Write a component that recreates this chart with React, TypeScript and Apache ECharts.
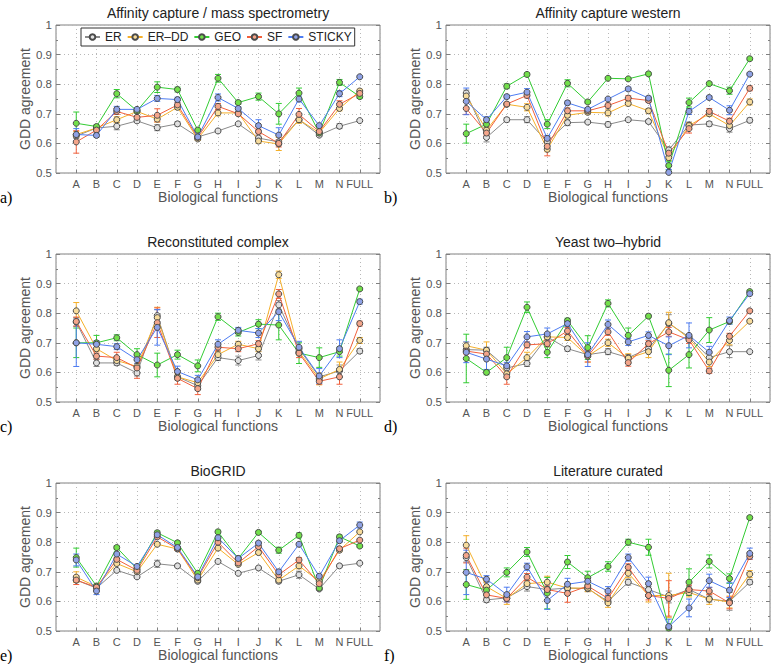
import React, { useEffect, useRef } from "react";
import * as echarts from "echarts";

// ---------- categories / names ----------
const categories = ["A", "B", "C", "D", "E", "F", "G", "H", "I", "J", "K", "L", "M", "N", "FULL"];
const seriesNames = ["ER", "ER–DD", "GEO", "SF", "STICKY"];
const panelTitles = [
  "Affinity capture / mass spectrometry",
  "Affinity capture western",
  "Reconstituted complex",
  "Yeast two–hybrid",
  "BioGRID",
  "Literature curated",
];
const panelLetters = ["a)", "b)", "c)", "d)", "e)", "f)"];
const yTicks = [0.5, 0.6, 0.7, 0.8, 0.9, 1];

// ---------- a) Affinity capture / mass spectrometry ----------
const apmsER = [0.625, 0.652, 0.658, 0.676, 0.653, 0.666, 0.622, 0.642, 0.666, 0.618, 0.605, 0.680, 0.628, 0.658, 0.677];
const apmsERerr = [0.008, 0.005, 0.012, 0.006, 0.010, 0.007, 0.005, 0.006, 0.004, 0.006, 0.006, 0.010, 0.005, 0.008, 0.004];
const apmsERDD = [0.630, 0.652, 0.680, 0.708, 0.682, 0.722, 0.615, 0.703, 0.703, 0.608, 0.598, 0.680, 0.636, 0.718, 0.777];
const apmsERDDerr = [0.010, 0.005, 0.010, 0.006, 0.010, 0.008, 0.005, 0.010, 0.005, 0.008, 0.022, 0.012, 0.005, 0.008, 0.006];
const apmsGEO = [0.668, 0.657, 0.768, 0.710, 0.790, 0.782, 0.645, 0.820, 0.738, 0.758, 0.700, 0.770, 0.635, 0.806, 0.758];
const apmsGEOerr = [0.038, 0.006, 0.014, 0.008, 0.018, 0.008, 0.006, 0.013, 0.006, 0.012, 0.035, 0.017, 0.006, 0.010, 0.006];
const apmsSF = [0.605, 0.645, 0.708, 0.688, 0.695, 0.730, 0.620, 0.725, 0.700, 0.640, 0.600, 0.698, 0.640, 0.732, 0.769];
const apmsSFerr = [0.038, 0.006, 0.010, 0.006, 0.022, 0.008, 0.005, 0.010, 0.005, 0.008, 0.012, 0.020, 0.005, 0.012, 0.005];
const apmsSTICKY = [0.630, 0.627, 0.715, 0.715, 0.752, 0.748, 0.622, 0.755, 0.718, 0.660, 0.628, 0.750, 0.660, 0.768, 0.825];
const apmsSTICKYerr = [0.020, 0.006, 0.010, 0.006, 0.010, 0.008, 0.005, 0.012, 0.006, 0.020, 0.025, 0.010, 0.005, 0.010, 0.004];

// ---------- b) Affinity capture western ----------
const acwER = [0.770, 0.620, 0.680, 0.680, 0.605, 0.670, 0.672, 0.664, 0.680, 0.674, 0.578, 0.662, 0.666, 0.650, 0.678];
const acwERerr = [0.010, 0.015, 0.007, 0.010, 0.006, 0.010, 0.005, 0.008, 0.005, 0.006, 0.010, 0.010, 0.008, 0.012, 0.008];
const acwERDD = [0.760, 0.645, 0.732, 0.722, 0.580, 0.695, 0.705, 0.703, 0.735, 0.710, 0.552, 0.660, 0.700, 0.660, 0.740];
const acwERDDerr = [0.012, 0.008, 0.006, 0.012, 0.008, 0.008, 0.006, 0.010, 0.008, 0.008, 0.010, 0.010, 0.008, 0.010, 0.010];
const acwGEO = [0.633, 0.665, 0.793, 0.833, 0.665, 0.803, 0.740, 0.820, 0.818, 0.835, 0.525, 0.738, 0.802, 0.778, 0.886];
const acwGEOerr = [0.032, 0.010, 0.008, 0.006, 0.015, 0.012, 0.005, 0.004, 0.004, 0.005, 0.015, 0.015, 0.005, 0.012, 0.005];
const acwSF = [0.718, 0.635, 0.733, 0.762, 0.590, 0.710, 0.710, 0.728, 0.753, 0.745, 0.567, 0.650, 0.708, 0.675, 0.786];
const acwSFerr = [0.020, 0.008, 0.006, 0.008, 0.032, 0.010, 0.006, 0.008, 0.008, 0.006, 0.010, 0.015, 0.010, 0.010, 0.008];
const acwSTICKY = [0.742, 0.680, 0.758, 0.773, 0.617, 0.737, 0.715, 0.750, 0.784, 0.753, 0.502, 0.708, 0.755, 0.712, 0.834];
const acwSTICKYerr = [0.045, 0.010, 0.006, 0.012, 0.010, 0.006, 0.006, 0.005, 0.006, 0.006, 0.010, 0.010, 0.006, 0.015, 0.005];

// ---------- c) Reconstituted complex ----------
const rcER = [0.770, 0.632, 0.632, 0.598, 0.792, 0.585, 0.555, 0.650, 0.640, 0.657, 0.828, 0.680, 0.585, 0.605, 0.672];
const rcERerr = [0.015, 0.012, 0.008, 0.010, 0.020, 0.010, 0.015, 0.010, 0.015, 0.015, 0.015, 0.010, 0.012, 0.020, 0.008];
const rcERDD = [0.808, 0.680, 0.640, 0.620, 0.785, 0.585, 0.565, 0.660, 0.695, 0.680, 0.930, 0.670, 0.578, 0.610, 0.708];
const rcERDDerr = [0.028, 0.010, 0.010, 0.010, 0.035, 0.010, 0.010, 0.010, 0.010, 0.010, 0.012, 0.012, 0.020, 0.025, 0.010];
const rcGEO = [0.700, 0.700, 0.717, 0.660, 0.625, 0.660, 0.622, 0.788, 0.735, 0.763, 0.760, 0.665, 0.650, 0.670, 0.882];
const rcGEOerr = [0.050, 0.025, 0.010, 0.020, 0.040, 0.015, 0.020, 0.012, 0.012, 0.015, 0.050, 0.035, 0.033, 0.015, 0.005];
const rcSF = [0.772, 0.655, 0.650, 0.615, 0.768, 0.580, 0.545, 0.685, 0.680, 0.697, 0.865, 0.665, 0.570, 0.585, 0.765];
const rcSFerr = [0.015, 0.010, 0.018, 0.035, 0.050, 0.020, 0.020, 0.010, 0.010, 0.010, 0.015, 0.015, 0.010, 0.025, 0.008];
const rcSTICKY = [0.700, 0.695, 0.687, 0.643, 0.752, 0.603, 0.575, 0.695, 0.742, 0.733, 0.805, 0.685, 0.588, 0.680, 0.839];
const rcSTICKYerr = [0.080, 0.012, 0.010, 0.012, 0.060, 0.018, 0.015, 0.015, 0.010, 0.015, 0.030, 0.020, 0.025, 0.030, 0.008];

// ---------- d) Yeast two-hybrid ----------
const y2hER = [0.677, 0.675, 0.615, 0.630, 0.720, 0.680, 0.660, 0.670, 0.650, 0.680, 0.765, 0.720, 0.650, 0.670, 0.670];
const y2hERerr = [0.010, 0.010, 0.010, 0.010, 0.010, 0.008, 0.010, 0.010, 0.010, 0.010, 0.030, 0.010, 0.015, 0.020, 0.004];
const y2hERDD = [0.690, 0.675, 0.595, 0.650, 0.720, 0.718, 0.655, 0.700, 0.648, 0.670, 0.768, 0.715, 0.635, 0.708, 0.773];
const y2hERDDerr = [0.012, 0.028, 0.015, 0.018, 0.010, 0.010, 0.020, 0.012, 0.015, 0.020, 0.035, 0.010, 0.015, 0.015, 0.005];
const y2hGEO = [0.647, 0.600, 0.650, 0.820, 0.668, 0.775, 0.684, 0.833, 0.725, 0.790, 0.607, 0.660, 0.743, 0.772, 0.873];
const y2hGEOerr = [0.082, 0.008, 0.035, 0.018, 0.018, 0.008, 0.040, 0.012, 0.025, 0.005, 0.055, 0.045, 0.042, 0.008, 0.005];
const y2hSF = [0.672, 0.662, 0.585, 0.693, 0.697, 0.740, 0.655, 0.737, 0.633, 0.697, 0.737, 0.710, 0.605, 0.722, 0.808];
const y2hSFerr = [0.010, 0.012, 0.025, 0.010, 0.010, 0.012, 0.020, 0.012, 0.012, 0.010, 0.015, 0.012, 0.008, 0.010, 0.005];
const y2hSTICKY = [0.668, 0.645, 0.622, 0.720, 0.730, 0.765, 0.660, 0.762, 0.703, 0.725, 0.690, 0.725, 0.668, 0.775, 0.866];
const y2hSTICKYerr = [0.035, 0.035, 0.012, 0.018, 0.020, 0.010, 0.040, 0.015, 0.012, 0.012, 0.030, 0.042, 0.020, 0.012, 0.005];

// ---------- e) BioGRID ----------
const bgER = [0.672, 0.645, 0.705, 0.683, 0.727, 0.720, 0.668, 0.735, 0.695, 0.713, 0.668, 0.690, 0.642, 0.720, 0.729];
const bgERerr = [0.008, 0.006, 0.005, 0.005, 0.012, 0.005, 0.005, 0.005, 0.004, 0.004, 0.006, 0.012, 0.005, 0.005, 0.004];
const bgERDD = [0.682, 0.650, 0.728, 0.700, 0.793, 0.777, 0.672, 0.780, 0.725, 0.765, 0.672, 0.720, 0.668, 0.773, 0.835];
const bgERDDerr = [0.018, 0.006, 0.006, 0.005, 0.005, 0.005, 0.005, 0.006, 0.004, 0.006, 0.008, 0.010, 0.005, 0.005, 0.004];
const bgGEO = [0.748, 0.652, 0.782, 0.710, 0.832, 0.798, 0.695, 0.835, 0.745, 0.833, 0.773, 0.823, 0.645, 0.818, 0.787];
const bgGEOerr = [0.032, 0.006, 0.006, 0.006, 0.006, 0.005, 0.006, 0.006, 0.005, 0.005, 0.010, 0.008, 0.005, 0.006, 0.005];
const bgSF = [0.672, 0.648, 0.742, 0.705, 0.818, 0.778, 0.680, 0.800, 0.730, 0.785, 0.690, 0.740, 0.660, 0.778, 0.807];
const bgSFerr = [0.015, 0.006, 0.006, 0.005, 0.006, 0.005, 0.005, 0.006, 0.004, 0.005, 0.008, 0.008, 0.005, 0.005, 0.004];
const bgSTICKY = [0.740, 0.635, 0.760, 0.718, 0.825, 0.782, 0.683, 0.815, 0.745, 0.797, 0.700, 0.793, 0.685, 0.805, 0.858];
const bgSTICKYerr = [0.020, 0.012, 0.006, 0.006, 0.006, 0.005, 0.006, 0.006, 0.005, 0.005, 0.008, 0.006, 0.006, 0.006, 0.010];

// ---------- f) Literature curated ----------
const litER = [0.748, 0.605, 0.612, 0.650, 0.640, 0.645, 0.643, 0.600, 0.665, 0.640, 0.615, 0.640, 0.608, 0.600, 0.665];
const litERerr = [0.015, 0.008, 0.010, 0.015, 0.010, 0.010, 0.010, 0.010, 0.010, 0.010, 0.020, 0.012, 0.010, 0.030, 0.008];
const litERDD = [0.790, 0.650, 0.610, 0.660, 0.665, 0.645, 0.645, 0.595, 0.695, 0.620, 0.620, 0.630, 0.608, 0.598, 0.692];
const litERDDerr = [0.032, 0.015, 0.020, 0.012, 0.020, 0.015, 0.012, 0.015, 0.015, 0.022, 0.075, 0.015, 0.018, 0.020, 0.012];
const litGEO = [0.657, 0.638, 0.698, 0.767, 0.628, 0.733, 0.680, 0.718, 0.800, 0.783, 0.510, 0.665, 0.735, 0.677, 0.883];
const litGEOerr = [0.050, 0.010, 0.015, 0.015, 0.053, 0.022, 0.022, 0.016, 0.010, 0.027, 0.010, 0.045, 0.022, 0.016, 0.005];
const litSF = [0.755, 0.622, 0.610, 0.682, 0.640, 0.627, 0.652, 0.610, 0.715, 0.620, 0.610, 0.640, 0.635, 0.595, 0.752];
const litSFerr = [0.025, 0.012, 0.012, 0.012, 0.015, 0.030, 0.012, 0.015, 0.012, 0.015, 0.060, 0.015, 0.012, 0.020, 0.010];
const litSTICKY = [0.698, 0.675, 0.623, 0.717, 0.603, 0.658, 0.668, 0.635, 0.748, 0.660, 0.515, 0.578, 0.670, 0.638, 0.762];
const litSTICKYerr = [0.075, 0.012, 0.025, 0.012, 0.030, 0.020, 0.015, 0.015, 0.012, 0.022, 0.025, 0.030, 0.022, 0.025, 0.018];

const panelValues = [
  [apmsER, apmsERDD, apmsGEO, apmsSF, apmsSTICKY],
  [acwER, acwERDD, acwGEO, acwSF, acwSTICKY],
  [rcER, rcERDD, rcGEO, rcSF, rcSTICKY],
  [y2hER, y2hERDD, y2hGEO, y2hSF, y2hSTICKY],
  [bgER, bgERDD, bgGEO, bgSF, bgSTICKY],
  [litER, litERDD, litGEO, litSF, litSTICKY],
];
const panelErrors = [
  [apmsERerr, apmsERDDerr, apmsGEOerr, apmsSFerr, apmsSTICKYerr],
  [acwERerr, acwERDDerr, acwGEOerr, acwSFerr, acwSTICKYerr],
  [rcERerr, rcERDDerr, rcGEOerr, rcSFerr, rcSTICKYerr],
  [y2hERerr, y2hERDDerr, y2hGEOerr, y2hSFerr, y2hSTICKYerr],
  [bgERerr, bgERDDerr, bgGEOerr, bgSFerr, bgSTICKYerr],
  [litERerr, litERDDerr, litGEOerr, litSFerr, litSTICKYerr],
];

// ---------- styles ----------
const lineColors = ["#8a8a8a", "#f5b02a", "#33cc33", "#f2603c", "#4d7cf2"];
const fillColors = ["#e0e0e0", "#f8dc9c", "#72e04a", "#f4a58a", "#8fa2e6"];
const FONT = '"Liberation Sans", Arial, sans-serif';
const GRID_LEFTS = [56, 446];
const GRID_TOPS = [25, 254, 483];
const GRID_W = 324;
const GRID_H = 148;

function errRenderer(color: string) {
  return (params: any, api: any) => {
    const x = api.value(0);
    const lo = api.value(1);
    const hi = api.value(2);
    const p1 = api.coord([x, hi]);
    const p2 = api.coord([x, lo]);
    const hw = 3;
    const style = { stroke: color, lineWidth: 1 };
    return {
      type: "group",
      children: [
        { type: "line", shape: { x1: p1[0], y1: p1[1], x2: p2[0], y2: p2[1] }, style },
        { type: "line", shape: { x1: p1[0] - hw, y1: p1[1], x2: p1[0] + hw, y2: p1[1] }, style },
        { type: "line", shape: { x1: p2[0] - hw, y1: p2[1], x2: p2[0] + hw, y2: p2[1] }, style },
      ],
    };
  };
}

function buildOption() {
  const grids: any[] = [];
  const xAxes: any[] = [];
  const yAxes: any[] = [];
  const rightAxes: any[] = [];
  const series: any[] = [];
  const graphics: any[] = [];

  for (let p = 0; p < 6; p++) {
    const col = p % 2;
    const row = Math.floor(p / 2);
    const left = GRID_LEFTS[col];
    const top = GRID_TOPS[row];
    grids.push({
      left,
      top,
      width: GRID_W,
      height: GRID_H,
      show: true,
      borderColor: "#808080",
      borderWidth: 1,
      backgroundColor: "#ffffff",
      containLabel: false,
    });
    xAxes.push({
      gridIndex: p,
      type: "value",
      min: 0,
      max: categories.length + 1,
      interval: 1,
      axisLine: { show: false },
      axisTick: { show: true, inside: true, length: 3, lineStyle: { color: "#808080" } },
      axisLabel: {
        formatter: (v: number) => categories[v - 1] ?? "",
        color: "#555555",
        fontSize: 11,
        fontFamily: FONT,
        margin: 5,
        showMinLabel: false,
        showMaxLabel: false,
      },
      splitLine: { show: true, lineStyle: { type: [1, 3], color: "#b8b8b8", width: 1 } },
      name: "Biological functions",
      nameLocation: "middle",
      nameGap: 12,
      nameTextStyle: { color: "#555555", fontSize: 14, fontFamily: FONT },
    });
    yAxes.push({
      gridIndex: p,
      type: "value",
      position: "left",
      min: yTicks[0],
      max: yTicks[yTicks.length - 1],
      interval: 0.1,
      axisLine: { show: false },
      axisTick: { show: true, inside: true, length: 4, lineStyle: { color: "#808080" } },
      minorTick: { show: true, splitNumber: 2, length: 2, lineStyle: { color: "#808080" } },
      axisLabel: {
        formatter: (v: number) => (Math.abs(v - 1) < 1e-9 ? "1" : v.toFixed(1)),
        color: "#555555",
        fontSize: 11.5,
        fontFamily: FONT,
        margin: 4,
      },
      splitLine: { show: true, lineStyle: { type: [1, 3], color: "#b8b8b8", width: 1 } },
      name: "GDD agreement",
      nameLocation: "middle",
      nameGap: 18,
      nameTextStyle: { color: "#555555", fontSize: 14, fontFamily: FONT },
    });
    rightAxes.push({
      gridIndex: p,
      type: "value",
      position: "right",
      min: yTicks[0],
      max: yTicks[yTicks.length - 1],
      interval: 0.1,
      axisLine: { show: false },
      axisTick: { show: true, inside: true, length: 4, lineStyle: { color: "#808080" } },
      minorTick: { show: true, splitNumber: 2, length: 2, lineStyle: { color: "#808080" } },
      axisLabel: { show: false },
      splitLine: { show: false },
    });

    for (let s = 0; s < 5; s++) {
      const vals = panelValues[p][s];
      const errs = panelErrors[p][s];
      series.push({
        type: "custom",
        name: seriesNames[s] + " error",
        xAxisIndex: p,
        yAxisIndex: p,
        clip: true,
        silent: true,
        renderItem: errRenderer(lineColors[s]),
        encode: { x: 0, y: [1, 2] },
        data: vals.map((v, i) => [i + 1, v - errs[i], v + errs[i]]),
      });
      series.push({
        type: "line",
        name: seriesNames[s],
        xAxisIndex: p,
        yAxisIndex: p,
        symbol: "circle",
        symbolSize: 6,
        showSymbol: true,
        lineStyle: { color: lineColors[s], width: 1 },
        itemStyle: { color: fillColors[s], borderColor: "#4a4a4a", borderWidth: 1 },
        emphasis: { disabled: true },
        data: vals.map((v, i) => [i + 1, v]),
      });
    }

    graphics.push({
      type: "text",
      x: left + GRID_W / 2,
      y: top - 12,
      silent: true,
      style: {
        text: panelTitles[p],
        fill: "#222222",
        font: `14px ${FONT}`,
        align: "center",
        verticalAlign: "middle",
      },
    });
    graphics.push({
      type: "text",
      x: col === 0 ? 0 : 384,
      y: top + GRID_H + 24,
      silent: true,
      style: {
        text: panelLetters[p],
        fill: "#000000",
        font: '16px "Liberation Serif", "Times New Roman", serif',
        align: "left",
        verticalAlign: "middle",
      },
    });
  }

  return {
    animation: false,
    backgroundColor: "#ffffff",
    textStyle: { fontFamily: FONT },
    grid: grids,
    xAxis: xAxes,
    yAxis: [...yAxes, ...rightAxes],
    series,
    graphic: graphics,
    legend: {
      show: true,
      data: seriesNames,
      left: 81,
      top: 28,
      orient: "horizontal",
      itemWidth: 15,
      itemHeight: 7,
      itemGap: 5,
      padding: [3, 3, 3, 3],
      borderColor: "#333333",
      borderWidth: 1,
      borderRadius: 0,
      backgroundColor: "#ffffff",
      selectedMode: false,
      textStyle: { fontSize: 12, color: "#222222", fontFamily: FONT },
    },
  };
}

export default function App() {
  const ref = useRef<HTMLDivElement>(null);
  useEffect(() => {
    if (!ref.current) return;
    const chart = echarts.init(ref.current, undefined, { renderer: "svg" });
    chart.setOption(buildOption() as any);
    return () => chart.dispose();
  }, []);
  return (
    <div
      ref={ref}
      style={{ position: "fixed", left: 0, top: 0, width: 775, height: 664, background: "#ffffff" }}
    />
  );
}
